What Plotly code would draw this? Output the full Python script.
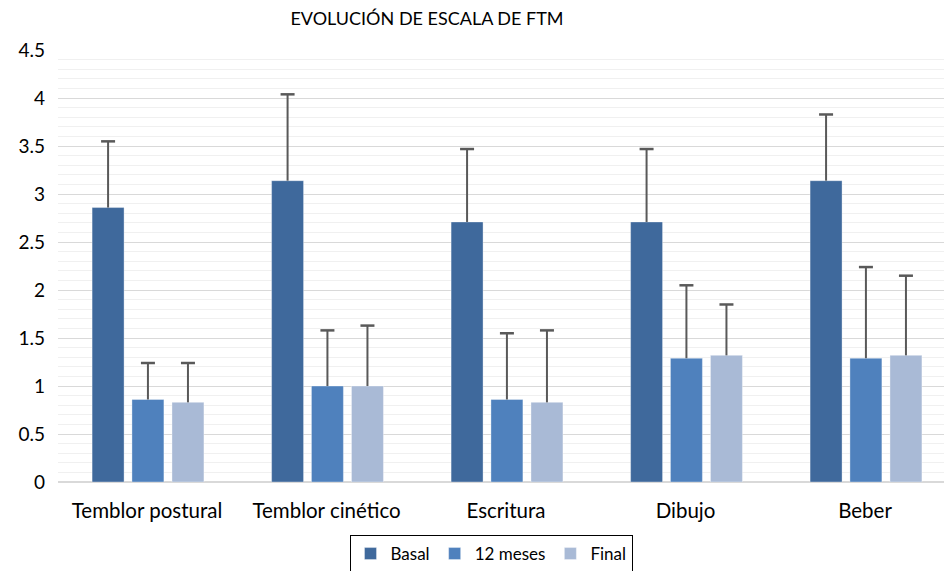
import plotly.graph_objects as go

categories = ["Temblor postural", "Temblor cinético", "Escritura", "Dibujo", "Beber"]
series_names = ["Basal", "12 meses", "Final"]
basal = [2.86, 3.14, 2.71, 2.71, 3.14]
basal_err = [0.69, 0.90, 0.76, 0.76, 0.69]
meses12 = [0.86, 1.00, 0.86, 1.29, 1.29]
meses12_err = [0.38, 0.58, 0.69, 0.76, 0.95]
final = [0.83, 1.00, 0.83, 1.32, 1.32]
final_err = [0.41, 0.63, 0.75, 0.53, 0.83]
y_ticks = [0, 0.5, 1, 1.5, 2, 2.5, 3, 3.5, 4, 4.5]

colors = ["#3F699C", "#4F81BD", "#A9BAD6"]
centers = [-0.217, 0.005, 0.228]   # bar centre shift within a category slot
bar_w = 0.178
font_family = "Lato, 'Open Sans', sans-serif"
err_color = "#595959"

idx = list(range(len(categories)))
fig = go.Figure()
for name, vals, errs, col, sh in zip(series_names, [basal, meses12, final],
                                     [basal_err, meses12_err, final_err], colors, centers):
    xs = [i + sh for i in idx]
    fig.add_trace(go.Bar(
        x=xs, y=vals, name=name, width=bar_w,
        marker=dict(color=col, line=dict(color="rgba(255,255,255,0.35)", width=1)),
    ))
    tops = [v + e for v, e in zip(vals, errs)]
    fig.add_trace(go.Scatter(
        x=xs, y=tops, mode="markers", showlegend=False, hoverinfo="skip",
        marker=dict(symbol="line-ew", size=10, color=err_color,
                    line=dict(color=err_color, width=2.5)),
        error_y=dict(type="data", symmetric=False, array=[0] * len(errs),
                     arrayminus=errs, color=err_color, thickness=2, width=0),
    ))

fig.update_layout(
    width=944, height=571,
    barmode="overlay",
    plot_bgcolor="white", paper_bgcolor="white",
    margin=dict(l=58, r=0, t=50, b=89, autoexpand=False),
    font=dict(family=font_family, color="#000000", size=19),
    title=dict(text="EVOLUCIÓN DE ESCALA DE FTM", x=427 / 944, xanchor="center",
               y=1 - 19 / 571, yanchor="middle",
               font=dict(size=18, family=font_family, color="#000000")),
    legend=dict(orientation="h", x=(491 - 58) / 886, xanchor="center",
                y=-(535 - 482) / 432, yanchor="top",
                bordercolor="#000000", borderwidth=1,
                font=dict(size=17), itemwidth=30, tracegroupgap=0),
    xaxis=dict(range=[-0.496, 4.44], tickvals=idx, ticktext=categories,
               showgrid=False, zeroline=False, automargin=False,
               showline=False, ticks="", ticklabelstandoff=14,
               tickfont=dict(size=20.5)),
    yaxis=dict(range=[0, 4.502], tickvals=y_ticks, ticktext=[f"{v:g}" for v in y_ticks],
               showgrid=True, gridcolor="#D9D9D9", gridwidth=1.3, automargin=False,
               zeroline=True, zerolinecolor="#D9D9D9", zerolinewidth=1.5,
               showline=False, ticks="", ticklabelstandoff=12,
               tickfont=dict(size=19),
               minor=dict(dtick=0.1, tick0=0, showgrid=True, gridcolor="#F0F0F0", gridwidth=1)),
)

fig.write_html("out.html", config={"displayModeBar": False},
               post_script="document.body.style.margin='0';document.body.style.overflow='hidden';")
